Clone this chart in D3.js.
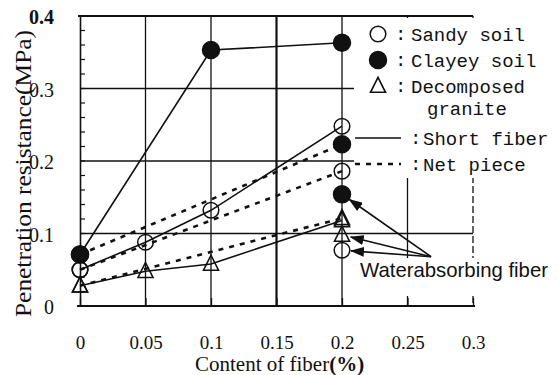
<!DOCTYPE html>
<html>
<head>
<meta charset="utf-8">
<script src="https://cdn.jsdelivr.net/npm/d3@7"></script>
<style>
  body { margin: 0; background: #fff; }
  svg { display: block; }
</style>
</head>
<body>
<div id="chart"></div>
<script>
// values
const fiberContent = [0, 0.05, 0.1, 0.2]
const sandyShort   = [0.050, 0.088, 0.132, 0.248]
const clayeyShort  = [0.071, null, 0.353, 0.363]
const graniteShort = [0.028, 0.048, 0.058, 0.118]
const sandyNet     = [0.050, null, null, 0.186]
const clayeyNet    = [0.071, null, null, 0.223]
const graniteNet   = [0.028, null, null, 0.121]
const sandyWater   = [null, null, null, 0.077]
const clayeyWater  = [null, null, null, 0.154]
const graniteWater = [null, null, null, 0.098]

const xTicks = [0, 0.05, 0.1, 0.15, 0.2, 0.25, 0.3]
const xTickLabels = ["0", "0.05", "0.1", "0.15", "0.2", "0.25", "0.3"]
const yTicks = [0, 0.1, 0.2, 0.3, 0.4]
const yTickLabels = ["0", "0.1", "0.2", "0.3", "0.4"]
const yMinor = d3.range(0, 0.4001, 0.02)

const legendSoils = ["Sandy soil", "Clayey soil", "Decomposed"]
const legendFibers = ["Short fiber", "Net piece"]
const waterLabel = "Waterabsorbing fiber"
const arrowFrom = [0.268, 0.068]

const w = 558, h = 375
const serif = "'Liberation Serif', 'DejaVu Serif', serif"
const mono = "'Liberation Mono', 'DejaVu Sans Mono', monospace"
const ink = "#111"

const x = d3.scaleLinear().domain([0, 0.3]).range([80, 473])
const y = d3.scaleLinear().domain([0, 0.4]).range([306, 16])

const svg = d3.select("#chart").append("svg")
    .attr("width", w)
    .attr("height", h)

// arrow head
svg.append("defs").append("marker")
    .attr("id", "head")
    .attr("markerUnits", "userSpaceOnUse")
    .attr("markerWidth", 14).attr("markerHeight", 10)
    .attr("refX", 13).attr("refY", 5)
    .attr("orient", "auto")
  .append("path")
    .attr("d", "M0,0 L14,5 L0,10 Z")
    .attr("fill", ink)

// grid
let grid = svg.append("g").attr("class", "grid")
grid.selectAll("line.v")
    .data(xTicks.filter(t => t > 0))
    .join("line")
    .attr("x1", d => x(d)).attr("x2", d => x(d))
    .attr("y1", y(0.4)).attr("y2", y(0))
    .attr("stroke", ink)
    .attr("stroke-width", d => d === 0.15 ? 2.2 : 1.3)
    .attr("stroke-dasharray", d => d === 0.3 ? "7,3" : null)
grid.selectAll("line.h")
    .data(yTicks.filter(t => t > 0 && t < 0.4))
    .join("line")
    .attr("x1", x(0)).attr("x2", x(0.3))
    .attr("y1", d => y(d)).attr("y2", d => y(d))
    .attr("stroke", ink)
    .attr("stroke-width", 1.3)

// white panels behind legend and the label
svg.append("rect")
    .attr("x", 354).attr("y", 18).attr("width", w - 354).attr("height", 160)
    .attr("fill", "#fff")
svg.append("rect")
    .attr("x", 356).attr("y", 258).attr("width", w - 356).attr("height", 38)
    .attr("fill", "#fff")

// frame and axes
svg.append("line")
    .attr("x1", x(0) - 2).attr("x2", x(0.3))
    .attr("y1", y(0.4)).attr("y2", y(0.4))
    .attr("stroke", ink).attr("stroke-width", 2)

let xAxis = svg.append("g")
    .attr("transform", `translate(0,${y(0)})`)
    .call(d3.axisBottom(x).tickValues(xTicks).tickSize(-8).tickPadding(30)
        .tickFormat((d, i) => xTickLabels[i]))
xAxis.select(".domain").attr("stroke", ink).attr("stroke-width", 2)
    .attr("d", `M${x(0) - 3},0H${x(0.3) + 2}`)
xAxis.selectAll("line").attr("stroke", ink).attr("stroke-width", 1.3)
xAxis.selectAll("text")
    .attr("fill", ink)
    .style("font-family", serif)
    .style("font-size", "19px")

let yAxis = svg.append("g")
    .attr("transform", `translate(${x(0)},0)`)
    .call(d3.axisLeft(y).tickValues(yTicks).tickSize(0).tickPadding(26)
        .tickFormat((d, i) => yTickLabels[i]))
yAxis.select(".domain").attr("stroke", ink).attr("stroke-width", 1.6)
yAxis.selectAll("text")
    .attr("fill", ink)
    .attr("dy", "0.38em")
    .style("font-family", serif)
    .style("font-size", "20px")
    .style("font-weight", d => d === 0.4 ? "bold" : "normal")

svg.append("g").selectAll("line")
    .data(yMinor)
    .join("line")
    .attr("x1", x(0)).attr("x2", x(0) + 5)
    .attr("y1", d => y(d)).attr("y2", d => y(d))
    .attr("stroke", ink).attr("stroke-width", 1.2)

// axis titles
svg.append("text")
    .attr("transform", `translate(31,${(30 + 317) / 2}) rotate(-90)`)
    .attr("text-anchor", "middle")
    .attr("textLength", 287)
    .attr("lengthAdjust", "spacingAndGlyphs")
    .attr("fill", ink)
    .style("font-family", serif)
    .style("font-size", "24px")
    .text("Penetration resistance(MPa)")

let xTitle = svg.append("text")
    .attr("x", 195).attr("y", 371)
    .attr("fill", ink)
    .style("font-family", serif)
    .style("font-size", "21px")
xTitle.append("tspan").text("Content of fiber")
xTitle.append("tspan").style("font-weight", "bold").text("(%)")

// series
const toPoints = vals => fiberContent
    .map((c, i) => ({c: c, v: vals[i]}))
    .filter(d => d.v != null)

const line = d3.line().x(d => x(d.c)).y(d => y(d.v))

let series = [
    {vals: sandyNet, kind: "net", shape: "open"},
    {vals: clayeyNet, kind: "net", shape: "filled"},
    {vals: graniteNet, kind: "net", shape: "tri"},
    {vals: sandyShort, kind: "short", shape: "open"},
    {vals: clayeyShort, kind: "short", shape: "filled"},
    {vals: graniteShort, kind: "short", shape: "tri"},
    {vals: sandyWater, kind: "water", shape: "open"},
    {vals: clayeyWater, kind: "water", shape: "filled"},
    {vals: graniteWater, kind: "water", shape: "tri"}
]

let lines = svg.append("g").attr("class", "lines")
series.filter(s => s.kind !== "water").forEach(s => {
    lines.append("path")
        .attr("d", line(toPoints(s.vals)))
        .attr("fill", "none")
        .attr("stroke", ink)
        .attr("stroke-width", s.kind === "net" ? 2.6 : 1.6)
        .attr("stroke-dasharray", s.kind === "net" ? "5,6" : null)
})

const triPath = (cx, cy, s) =>
    `M${cx},${cy - s * 0.58}L${cx + s / 2},${cy + s * 0.42}L${cx - s / 2},${cy + s * 0.42}Z`

function drawMarker(g, shape, cx, cy) {
    if (shape === "tri") {
        g.append("path")
            .attr("d", triPath(cx, cy, 15))
            .attr("fill", "none")
            .attr("stroke", ink)
            .attr("stroke-width", 1.6)
    } else {
        g.append("circle")
            .attr("cx", cx).attr("cy", cy)
            .attr("r", shape === "filled" ? 8.5 : 7.8)
            .attr("fill", shape === "filled" ? ink : "none")
            .attr("stroke", ink)
            .attr("stroke-width", 1.5)
    }
}

let markers = svg.append("g").attr("class", "markers")
series.forEach(s => {
    toPoints(s.vals).forEach(d => drawMarker(markers, s.shape, x(d.c), y(d.v)))
})

// arrows to the water absorbing fiber points
let arrows = svg.append("g").attr("class", "arrows")
const ax = x(arrowFrom[0]), ay = y(arrowFrom[1])
series.filter(s => s.kind === "water").forEach(s => {
    let p = toPoints(s.vals)[0]
    let tx = x(p.c), ty = y(p.v)
    let dx = ax - tx, dy = ay - ty
    let len = Math.sqrt(dx * dx + dy * dy)
    let gap = 9
    arrows.append("line")
        .attr("x1", ax).attr("y1", ay)
        .attr("x2", tx + dx / len * gap).attr("y2", ty + dy / len * gap)
        .attr("stroke", ink)
        .attr("stroke-width", 1.6)
        .attr("marker-end", "url(#head)")
})

svg.append("text")
    .attr("x", 360).attr("y", 277)
    .attr("textLength", 188)
    .attr("lengthAdjust", "spacingAndGlyphs")
    .attr("fill", ink)
    .style("font-family", "'Liberation Sans', Arial, sans-serif")
    .style("font-size", "21px")
    .text(waterLabel)

// legend
let legend = svg.append("g").attr("class", "legend")
const soilShapes = ["open", "filled", "tri"]
const soilRowY = [34, 60, 86]
legendSoils.forEach((label, i) => {
    drawMarker(legend, soilShapes[i], 378, soilRowY[i])
    legend.append("text")
        .attr("x", 395).attr("y", soilRowY[i] + 6)
        .text(":")
    legend.append("text")
        .attr("x", 411).attr("y", soilRowY[i] + 7)
        .text(label)
})
legend.append("text")
    .attr("x", 427).attr("y", 115)
    .text("granite")

const fiberRowY = [138, 164]
legendFibers.forEach((label, i) => {
    legend.append("line")
        .attr("x1", 355).attr("x2", 401)
        .attr("y1", fiberRowY[i]).attr("y2", fiberRowY[i])
        .attr("stroke", ink)
        .attr("stroke-width", i === 0 ? 1.6 : 2.6)
        .attr("stroke-dasharray", i === 0 ? null : "5,6")
    legend.append("text")
        .attr("x", 410).attr("y", fiberRowY[i] + 6)
        .text(":")
    legend.append("text")
        .attr("x", 423).attr("y", fiberRowY[i] + 7)
        .text(label)
})
legend.selectAll("text")
    .attr("fill", ink)
    .style("font-family", mono)
    .style("font-size", "19px")
</script>
</body>
</html>
